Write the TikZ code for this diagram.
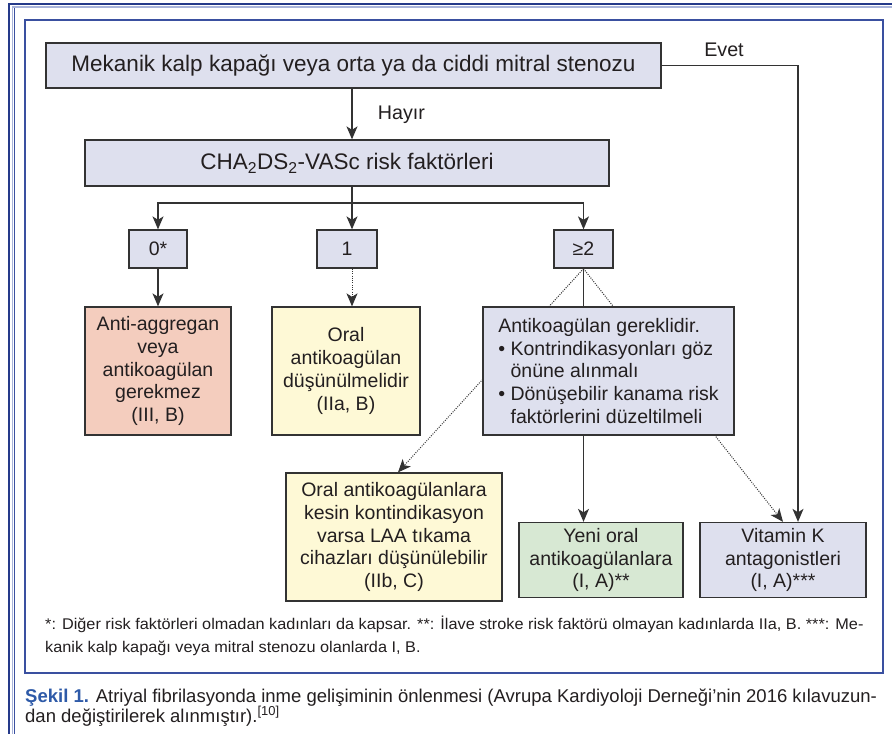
\documentclass[tikz,border=0pt]{standalone}
\usepackage{fontspec}
\setmainfont{Liberation Sans}
\newfontfamily\capfont[FakeStretch=1.0]{Liberation Sans}
\newfontfamily\fnfont[FakeStretch=1.05]{Liberation Sans}
\usetikzlibrary{arrows.meta,backgrounds,calc}
\definecolor{lav}{HTML}{DEE0EE}
\definecolor{salmon}{HTML}{F4CDBE}
\definecolor{ylw}{HTML}{FEF9D6}
\definecolor{grn}{HTML}{D7E8D3}
\definecolor{boxline}{HTML}{333333}
\definecolor{navy}{HTML}{253A8A}
\definecolor{paleblue}{HTML}{A9B4DA}
\definecolor{frameblue}{HTML}{3A50A0}
\definecolor{capblue}{HTML}{2E5AA8}
\definecolor{txt}{HTML}{231F20}
\begin{document}
\begin{tikzpicture}[x=1pt,y=-1pt,
  box/.style={draw=boxline, line width=1.3pt, inner sep=0pt, align=center,
    font=\fontsize{19.5}{22.8}\selectfont, text=txt},
  arr/.style={line width=1.3pt, draw=boxline, -{Stealth[length=13pt,width=11pt,inset=3.5pt]}},
  dotarr/.style={line width=1pt, draw=boxline, dash pattern=on 1pt off 1.3pt, -{Stealth[length=13pt,width=11pt,inset=3.5pt]}},
  plain/.style={line width=1.3pt, draw=boxline},
  lbl/.style={font=\fontsize{19.7}{22}\selectfont, text=txt, inner sep=0pt}]
\useasboundingbox (0,0) rectangle (892,734);
\begin{pgfonlayer}{background}
\fill[white] (0,0) rectangle (892,734);
\end{pgfonlayer}
% frame
\draw[navy, line width=2.5pt] (892,4) -- (9,4) -- (9,734);
\draw[paleblue, line width=1.2pt] (892,7) -- (12.5,7) -- (12.5,734);
\draw[frameblue, line width=1.2pt] (14.8,8) -- (14.8,734);
\draw[frameblue, line width=1.2pt] (25,20) rectangle (883,673);
% nodes
\node[box, fill=lav, minimum width=615pt, minimum height=45pt, font=\fontsize{22.5}{26}\selectfont] (b1) at (353.5,65.5) {Mekanik kalp kapağı veya orta ya da ciddi mitral stenozu};
\node[box, fill=lav, minimum width=524pt, minimum height=46pt, font=\fontsize{22.5}{26}\selectfont] (b2) at (347,163) {CHA\textsubscript{2}DS\textsubscript{2}-VASc risk faktörleri};
\node[box, fill=lav, minimum width=58pt, minimum height=38pt] (z0) at (158,249) {0*};
\node[box, fill=lav, minimum width=60pt, minimum height=38pt] (z1) at (347,249) {1};
\node[box, fill=lav, minimum width=59pt, minimum height=38pt] (z2) at (583.5,249) {≥2};
\node[box, fill=salmon, minimum width=146pt, minimum height=128pt] (a0) at (158,371) {Anti-aggregan\\veya\\antikoagülan\\gerekmez\\(III, B)};
\node[box, fill=ylw, minimum width=148pt, minimum height=128pt] (a1) at (346,371) {Oral\\antikoagülan\\düşünülmelidir\\(IIa, B)};
\node[box, fill=lav, minimum width=251pt, minimum height=128pt, align=left] (a2) at (608.5,371) {Antikoagülan gereklidir.\\• Kontrindikasyonları göz\\\phantom{• }önüne alınmalı\\• Dönüşebilir kanama risk\\\phantom{• }faktörlerini düzeltilmeli};
\node[box, fill=ylw, minimum width=216pt, minimum height=128pt] (c0) at (394,537) {Oral antikoagülanlara\\kesin kontindikasyon\\varsa LAA tıkama\\cihazları düşünülebilir\\(IIb, C)};
\node[box, fill=grn, minimum width=164pt, minimum height=75pt] (c1) at (601,560) {Yeni oral\\antikoagülanlara\\(I, A)**};
\node[box, fill=lav, minimum width=166pt, minimum height=75pt] (c2) at (783,560) {Vitamin K\\antagonistleri\\(I, A)***};
% labels
\node[lbl] (hayir) at (401.5,115) {Hayır};
\node[lbl] (evet) at (724,50) {Evet};
% connectors
\coordinate (br) at ($(b1.south |- 0,203)+(-1.5,0)$);
\coordinate (ev) at ($(c2.north)+(15,0)$);
\coordinate (ltip) at ($(c0.north)+(4,0)$);
\begin{pgfonlayer}{background}
\draw[arr] (br |- b1.south) -- (br |- b2.north);
\draw[plain] (br |- b2.south) -- (br);
\draw[arr] (br) -| (z0.north);
\draw[arr] (br) -| (z2.north);
\draw[arr] (br) -- (br |- z1.north);
\draw[arr] (z0.south) -- (z0.south |- a0.north);
\draw[dotarr] (br |- z1.south) -- (br |- a1.north);
\draw[plain] (z2.south) -- (z2.south |- a2.north);
\draw[dotarr] (z2.south) -- (ltip);
\draw[dotarr] (z2.south) -- (c2.north);
\draw[arr] (z2.south |- a2.south) -- (z2.south |- c1.north);
\draw[arr] (b1.east) -| (ev);
\end{pgfonlayer}
% footnote
\node[anchor=base west, inner sep=0pt, font=\fnfont\fontsize{15.5}{18}\selectfont, text=txt] (fn1) at (45,629) {*: Diğer risk faktörleri olmadan kadınları da kapsar. **: İlave stroke risk faktörü olmayan kadınlarda IIa, B. ***: Me-};
\node[anchor=base west, inner sep=0pt, font=\fnfont\fontsize{15.5}{18}\selectfont, text=txt] (fn2) at (45,652) {kanik kalp kapağı veya mitral stenozu olanlarda I, B.};
% caption
\node[anchor=base west, inner sep=0pt, font=\capfont\fontsize{18.5}{20}\selectfont, text=txt] (cap1) at (25,702) {{\color{capblue}\bfseries Şekil 1.} Atriyal fibrilasyonda inme gelişiminin önlenmesi (Avrupa Kardiyoloji Derneği’nin 2016 kılavuzun-};
\node[anchor=base west, inner sep=0pt, font=\capfont\fontsize{18.5}{20}\selectfont, text=txt] (cap2) at (25,722) {dan değiştirilerek alınmıştır).\textsuperscript{[10]}};
\end{tikzpicture}
\end{document}
